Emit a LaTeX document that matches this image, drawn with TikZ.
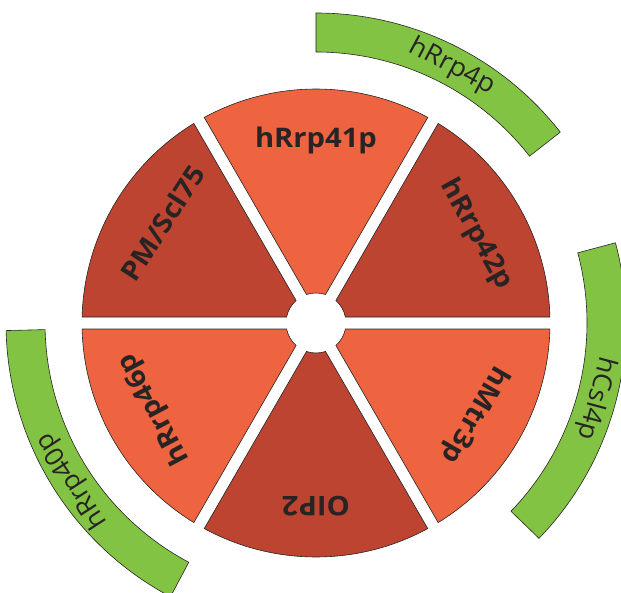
\documentclass[tikz,border=0pt]{standalone}
\usepackage{fontspec}
\setmainfont{Open Sans}
\definecolor{darkred}{RGB}{188,68,48}
\definecolor{lightred}{RGB}{238,99,64}
\definecolor{leafgreen}{RGB}{130,195,68}
\definecolor{inkgray}{RGB}{40,36,36}

\begin{document}
\begin{tikzpicture}[x=1pt,y=1pt,
  sector/.style={draw=inkgray,line width=.6pt},
  band/.style={draw=inkgray,line width=.6pt,fill=leafgreen},
  sectorlabel/.style={text=inkgray,font=\fontsize{27}{29}\selectfont\bfseries},
  bandlabel/.style={text=inkgray,font=\fontsize{26}{28}\selectfont}]
\useasboundingbox (-316,-269) rectangle (305,323);
\clip (-316,-269) rectangle (305,323);
% 6 sectors of the ring
\foreach \a / \m / \col / \nm / \txt in
  {0/29/darkred/rrp42/hRrp42p, 60/90/lightred/rrp41/hRrp41p, 120/147/darkred/pmscl/{PM/Scl75},
   180/208/lightred/rrp46/hRrp46p, 240/270/darkred/oip/OIP2, 300/330/lightred/mtr3/hMtr3p}
  {
   \draw[sector,fill=\col] (\a+1.47:234) arc[start angle=\a+1.47, end angle=\a+58.53, radius=234]
     -- (\a+48.46:30) arc[start angle=\a+48.46, end angle=\a+11.54, radius=30] -- cycle;
   \node[sectorlabel,rotate=\m-90,xscale=1.08] (\nm) at (\m:183) {\txt};
  }
% outer bands
\foreach \s / \e / \m / \nm / \txt in
  {38/90/62/rrp4/hRrp4p, -44/15/-15/csl4/hCsl4p, 181.4/242/213/rrp40/hRrp40p}
  {
   \draw[band] (\s:310) arc[start angle=\s, end angle=\e, radius=310]
     -- (\e:271) arc[start angle=\e, end angle=\s, radius=271] -- cycle;
   \node[bandlabel,rotate=\m-90,xscale=1.04] (\nm) at (\m:290) {\txt};
  }
\end{tikzpicture}
\end{document}
